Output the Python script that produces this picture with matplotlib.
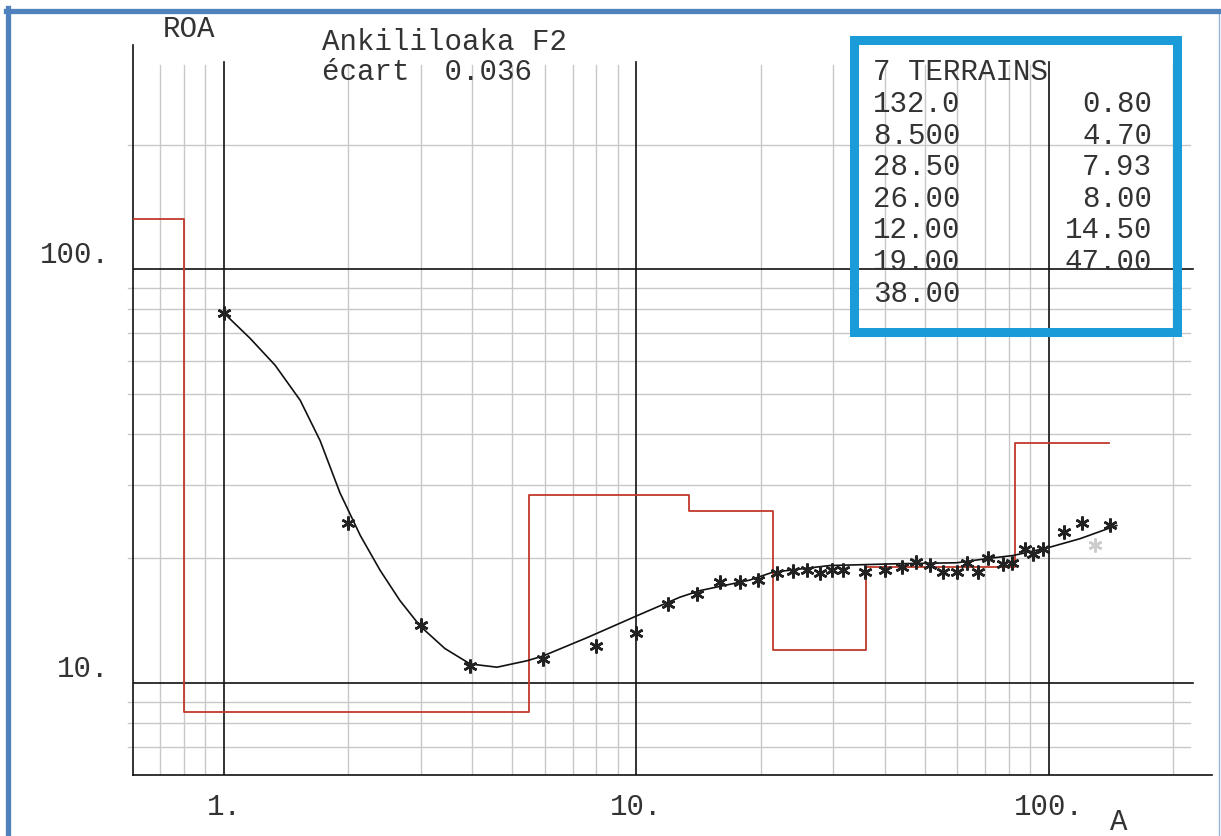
import numpy as np
import matplotlib
matplotlib.use('Agg')
import matplotlib.pyplot as plt
from matplotlib.lines import Line2D
from matplotlib.patches import Rectangle
from matplotlib.ticker import NullLocator

W, H = 1221, 836

# layered model (resistivity, thickness) as listed in the legend box
layer_rho = [132.0, 8.500, 28.50, 26.00, 12.00, 19.00, 38.00]
layer_thk = [0.80, 4.70, 7.93, 8.00, 14.50, 47.00]
rho_labels = ['132.0', '8.500', '28.50', '26.00', '12.00', '19.00', '38.00']
thk_labels = ['0.80', '4.70', '7.93', '8.00', '14.50', '47.00']
ab_max = 140.0

# field measurements (AB/2, apparent resistivity)
obs_ab = [1.0, 2.0, 3.0, 3.95, 5.93, 7.97, 10.0, 11.9, 14.0, 15.9, 17.8, 19.7,
          21.9, 24.0, 25.9, 27.9, 29.8, 31.7, 35.8, 40.0, 44.0, 47.6, 51.5,
          55.3, 59.8, 63.3, 67.3, 71.1, 77.4, 81.4, 87.5, 91.5, 96.7, 109.0,
          120.0, 140.6]
obs_rho = [78.3, 24.3, 13.8, 11.0, 11.4, 12.3, 13.2, 15.5, 16.4, 17.5, 17.5,
           17.7, 18.4, 18.6, 18.7, 18.4, 18.7, 18.7, 18.5, 18.7, 19.0, 19.6,
           19.3, 18.5, 18.5, 19.5, 18.5, 20.0, 19.4, 19.5, 21.0, 20.5, 21.1,
           23.1, 24.3, 24.0]
# rejected point
rej_ab = [129.0]
rej_rho = [21.5]

# computed sounding curve
fit_ab = [1.0, 1.156, 1.33, 1.53, 1.71, 1.91, 2.14, 2.39, 2.67, 2.99, 3.43,
          3.95, 4.59, 5.43, 5.93, 7.59, 10.0, 12.75, 14.26, 18.8, 21.4, 29.4,
          43.5, 59.8, 71.9, 81.8, 99.4, 119.0, 146.0]
fit_rho = [78.3, 68.1, 58.6, 48.2, 38.5, 28.8, 22.7, 18.7, 15.8, 13.7, 12.1,
           11.1, 10.9, 11.3, 11.6, 12.85, 14.5, 16.1, 16.7, 17.7, 18.5, 19.2,
           19.4, 19.5, 20.0, 20.3, 21.2, 22.3, 24.0]

x_major = [1, 10, 100]
x_minor = [0.7, 0.8, 0.9] + list(range(2, 10)) + list(range(20, 100, 10)) + [200]
y_major = [10, 100]
y_minor = [7, 8, 9] + list(range(20, 100, 10)) + [200]

FONT = 'Liberation Mono'
FS = 21
TXT = '#333333'


def px(x, y):
    return x / W, 1 - y / H


fig = plt.figure(figsize=(W / 100, H / 100), dpi=100)
ax = fig.add_axes([133 / W, 61 / H, (1212 - 133) / W, (775 - 45) / H])
ax.set_xscale('log')
ax.set_yscale('log')
ax.set_xlim(0.6017, 248.5)
ax.set_ylim(5.98, 348.6)
ax.patch.set_visible(False)
for s in ['top', 'right']:
    ax.spines[s].set_visible(False)
for s in ['left', 'bottom']:
    ax.spines[s].set_color('#111111')
    ax.spines[s].set_linewidth(1.2)

# grid
for x in x_minor:
    ax.axvline(x, ymax=0.9726, color='#c8c8c8', lw=1.0, zorder=1)
for y in y_minor:
    ax.axhline(y, xmin=-0.005, xmax=0.9796, color='#c8c8c8', lw=1.0, zorder=1,
               clip_on=False)
for x in x_major:
    ax.axvline(x, ymax=0.9767, color='#111111', lw=1.2, zorder=2)
for y in y_major:
    ax.axhline(y, xmax=0.9824, color='#111111', lw=1.2, zorder=2)

# model step curve
bounds = np.concatenate([[ax.get_xlim()[0]], np.cumsum(layer_thk), [ab_max]])
sx, sy = [], []
for i, r in enumerate(layer_rho):
    sx += [bounds[i], bounds[i + 1]]
    sy += [r, r]
ax.plot(sx, sy, color='#c0392b', lw=1.3, zorder=3)

ax.plot(fit_ab, fit_rho, color='#111111', lw=1.2, zorder=4)
ax.plot(obs_ab, obs_rho, ls='none', marker=(6, 2, 0), ms=10, mew=1.8,
        mec='#222222', zorder=5)
ax.plot(rej_ab, rej_rho, ls='none', marker=(6, 2, 0), ms=10, mew=1.8,
        mec='#cccccc', zorder=5)

# ticks
ax.xaxis.set_minor_locator(NullLocator())
ax.yaxis.set_minor_locator(NullLocator())
ax.set_xticks([1, 10, 100], ['1.', '10.', '100.'])
ax.set_yticks([10, 100], ['10.', '100.'])
ax.tick_params(axis='x', length=0, pad=13)
ax.tick_params(axis='y', length=0, pad=17)
for lab in ax.get_xticklabels() + ax.get_yticklabels():
    lab.set_fontfamily(FONT)
    lab.set_fontsize(FS)
    lab.set_color(TXT)
for lab in ax.get_yticklabels():
    lab.set_va('bottom')

# titles and axis names
fig.text(*px(163, 37), 'ROA', family=FONT, size=FS, color=TXT, va='baseline')
fig.text(*px(322, 50), 'Ankililoaka F2', family=FONT, size=FS, color=TXT,
         va='baseline')
fig.text(*px(322, 80), 'écart  0.036', family=FONT, size=FS, color=TXT,
         va='baseline')
fig.text(*px(1110, 830), 'A', family=FONT, size=FS, color=TXT, va='baseline')

# layer table
rows_y = [112, 144, 175, 207, 238, 270, 302]
fig.text(*px(873, 80), '7 TERRAINS', family=FONT, size=FS, color=TXT,
         va='baseline')
for i, lab in enumerate(rho_labels):
    fig.text(*px(873, rows_y[i]), lab, family=FONT, size=FS, color=TXT,
             va='baseline')
for i, lab in enumerate(thk_labels):
    fig.text(*px(1152, rows_y[i]), lab, family=FONT, size=FS, color=TXT,
             va='baseline', ha='right')

x0, y0 = px(853.5, 332)
x1, y1 = px(1176.5, 40)
fig.add_artist(Rectangle((x0, y0), x1 - x0, y1 - y0, transform=fig.transFigure,
                         fill=False, edgecolor='#1b9bd7', lw=6.5))

# outer frame
frame = '#4f81bd'
fig.add_artist(Line2D([8 / W, 8 / W], [0, 1 - 8 / H], color=frame, lw=3.8,
                      transform=fig.transFigure))
fig.add_artist(Line2D([6 / W, 1], [1 - 10.5 / H, 1 - 10.5 / H], color=frame,
                      lw=3.8, transform=fig.transFigure))
fig.add_artist(Line2D([1218.5 / W, 1218.5 / W], [0, 1 - 10 / H], color=frame,
                      lw=1.0, alpha=0.6, transform=fig.transFigure))

fig.savefig('out.png', dpi=100, facecolor='white')
